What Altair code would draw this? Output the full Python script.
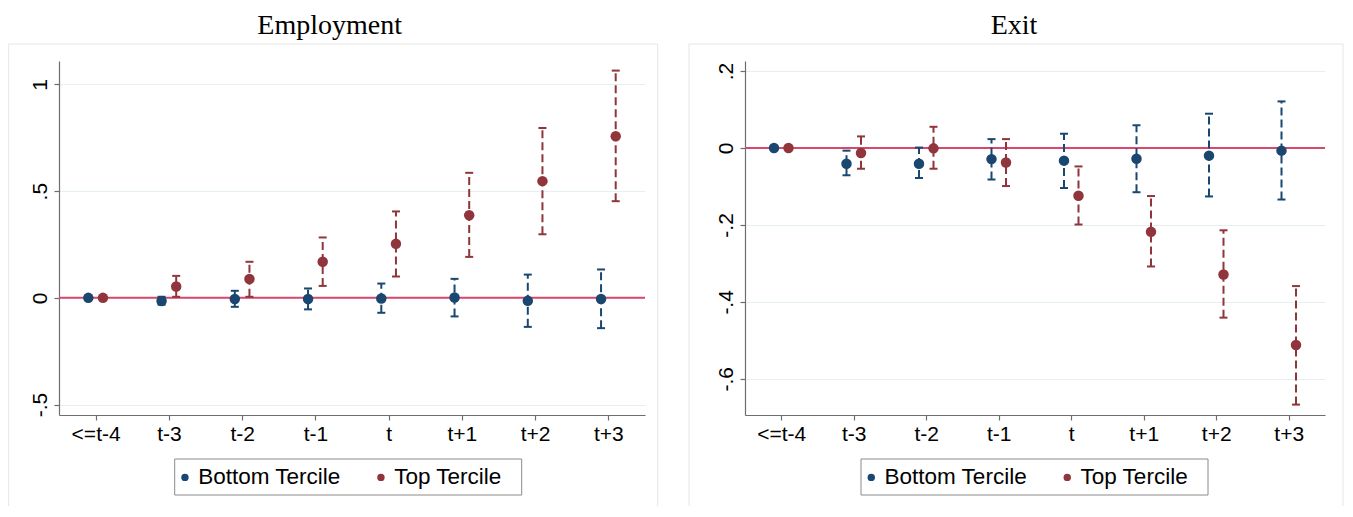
import json
import altair as alt
import pandas as pd

categories = ["<=t-4", "t-3", "t-2", "t-1", "t", "t+1", "t+2", "t+3"]
series_names = ["Bottom Tercile", "Top Tercile"]
series_colors = ["#1a476f", "#90353b"]

# Employment panel
emp_bottom_coef = [0.0, -0.015, -0.005, -0.005, -0.003, 0.002, -0.014, -0.005]
emp_bottom_lo = [0.0, -0.032, -0.042, -0.054, -0.070, -0.087, -0.136, -0.142]
emp_bottom_hi = [0.0, 0.005, 0.033, 0.044, 0.067, 0.089, 0.109, 0.133]
emp_top_coef = [0.0, 0.053, 0.088, 0.169, 0.253, 0.387, 0.547, 0.757]
emp_top_lo = [0.0, 0.005, 0.005, 0.056, 0.100, 0.192, 0.298, 0.453]
emp_top_hi = [0.0, 0.103, 0.169, 0.283, 0.405, 0.586, 0.796, 1.065]
emp_y_ticks = [-0.5, 0, 0.5, 1]
emp_y_domain = [-0.549, 1.110]

# Exit panel
exit_bottom_coef = [0.0, -0.041, -0.041, -0.029, -0.033, -0.028, -0.020, -0.007]
exit_bottom_lo = [0.0, -0.071, -0.078, -0.082, -0.104, -0.115, -0.126, -0.134]
exit_bottom_hi = [0.0, -0.007, 0.001, 0.023, 0.037, 0.059, 0.089, 0.121]
exit_top_coef = [0.0, -0.013, -0.001, -0.038, -0.124, -0.218, -0.329, -0.512]
exit_top_lo = [0.0, -0.054, -0.054, -0.099, -0.199, -0.308, -0.441, -0.667]
exit_top_hi = [0.0, 0.030, 0.055, 0.023, -0.048, -0.125, -0.214, -0.359]
exit_y_ticks = [-0.6, -0.4, -0.2, 0, 0.2]
exit_y_domain = [-0.694, 0.226]

SANS = "Liberation Sans"
SERIF = "Liberation Serif"
AXIS_GRAY = "#6e6e6e"
OFF = 0.1


def panel(title, coefs, los, his, y_domain, y_ticks, plot_w, plot_h,
          box_l, box_r, title_x, legend_x, legend_y, legend_w, legend_h):
    rows = []
    for s, clr, c, l, h in zip(series_names, series_colors, coefs, los, his):
        for i, cat in enumerate(categories):
            rows.append({"series": s, "clr": clr, "idx": i, "period": cat,
                         "coef": c[i], "lo": l[i], "hi": h[i]})
    df = pd.DataFrame(rows)

    xaxis = alt.Axis(values=list(range(len(categories))),
                     labelExpr=json.dumps(categories) + "[datum.value]",
                     title=None, grid=False, domainColor=AXIS_GRAY, domainWidth=1.2,
                     tickColor=AXIS_GRAY, tickSize=5, tickWidth=1.2,
                     labelFont=SANS, labelFontSize=21, labelColor="black",
                     labelPadding=3, labelAngle=0)
    yaxis = alt.Axis(values=y_ticks,
                     labelExpr="datum.value == 0 ? '0' : replace(toString(datum.value), '0.', '.')",
                     title=None, grid=True, gridColor="#e6eff1", gridWidth=1,
                     domainColor=AXIS_GRAY, domainWidth=1.2,
                     tickColor=AXIS_GRAY, tickSize=5, tickWidth=1.2,
                     labelFont=SANS, labelFontSize=21, labelColor="black",
                     labelAngle=270, labelAlign="center", labelBaseline="bottom",
                     labelPadding=4)
    xs = alt.Scale(domain=[-0.5, len(categories) - 0.5], nice=False, zero=False)
    ys = alt.Scale(domain=y_domain, nice=False, zero=False)
    cs = alt.Scale(domain=series_names, range=series_colors)

    base = alt.Chart(df).transform_calculate(
        xpos="datum.idx + (datum.series == '%s' ? %f : -%f)" % (series_names[1], OFF, OFF)
    )
    X = alt.X("xpos:Q", scale=xs, axis=xaxis)
    C_plain = alt.Color("clr:N", scale=None)

    zero_df = pd.DataFrame({"zero": [0.0]})
    zero = alt.Chart(zero_df).mark_rule(color="#d8486c", strokeWidth=2).encode(
        y=alt.Y("zero:Q", scale=ys, axis=yaxis))

    bars = base.mark_rule(strokeWidth=2, strokeDash=[8, 4]).encode(
        x=X, y=alt.Y("lo:Q", scale=ys, axis=yaxis), y2="hi:Q", color=C_plain)
    cap_lo = base.mark_tick(orient="horizontal", size=8, thickness=2, opacity=1).encode(
        x=X, y=alt.Y("lo:Q", scale=ys, axis=yaxis), color=C_plain)
    cap_hi = base.mark_tick(orient="horizontal", size=8, thickness=2, opacity=1).encode(
        x=X, y=alt.Y("hi:Q", scale=ys, axis=yaxis), color=C_plain)
    pts = base.mark_point(filled=True, size=110, opacity=1, shape="circle").encode(
        x=X, y=alt.Y("coef:Q", scale=ys, axis=yaxis),
        color=alt.Color("series:N", scale=cs, legend=alt.Legend(
            title=None, orient="none", legendX=legend_x, legendY=legend_y,
            direction="horizontal",
            padding=7, symbolType="circle", symbolSize=55, symbolStrokeWidth=0,
            symbolOffset=-8,
            labelFont=SANS, labelFontSize=22.5, labelColor="black",
            columnPadding=35, labelOffset=2)))

    one = pd.DataFrame({"label": [title]})
    ttl = alt.Chart(one).mark_text(font=SERIF, fontSize=28, color="black",
                                   align="center", baseline="alphabetic").encode(
        text="label:N", x=alt.value(title_x), y=alt.value(-27))
    box_color = "#e6e6e6"
    top_edge = alt.Chart(one).mark_rule(color=box_color, strokeWidth=1).encode(
        x=alt.value(box_l), x2=alt.value(box_r), y=alt.value(-17))
    left_edge = alt.Chart(one).mark_rule(color=box_color, strokeWidth=1).encode(
        x=alt.value(box_l), y=alt.value(-17), y2=alt.value(445))
    right_edge = alt.Chart(one).mark_rule(color=box_color, strokeWidth=1).encode(
        x=alt.value(box_r), y=alt.value(-17), y2=alt.value(445))
    legend_box = alt.Chart(one).mark_rect(fill="white", stroke="#8a8a8a", strokeWidth=1).encode(
        x=alt.value(legend_x), x2=alt.value(legend_x + legend_w),
        y=alt.value(legend_y), y2=alt.value(legend_y + legend_h))

    return alt.layer(top_edge, left_edge, right_edge, ttl, legend_box, zero, bars,
                     cap_lo, cap_hi, pts).properties(width=plot_w, height=plot_h)


left = panel("Employment",
             [emp_bottom_coef, emp_top_coef], [emp_bottom_lo, emp_top_lo],
             [emp_bottom_hi, emp_top_hi], emp_y_domain, emp_y_ticks,
             586, 354, -50.3, 598.7, 270.7, 115.7, 398, 347, 36)
right = panel("Exit",
              [exit_bottom_coef, exit_top_coef], [exit_bottom_lo, exit_top_lo],
              [exit_bottom_hi, exit_top_hi], exit_y_domain, exit_y_ticks,
              580, 354, -56, 598, 269, 116, 398, 347, 36)

chart = alt.hconcat(left, right, spacing=29).resolve_scale(
    x="independent", y="independent", color="independent"
).resolve_legend(color="independent").properties(
    padding={"top": 4, "left": 0, "right": 0, "bottom": 0},
    background="white",
).configure_view(stroke=None)

chart.save("out.html", embed_options={"renderer": "svg", "actions": False})
